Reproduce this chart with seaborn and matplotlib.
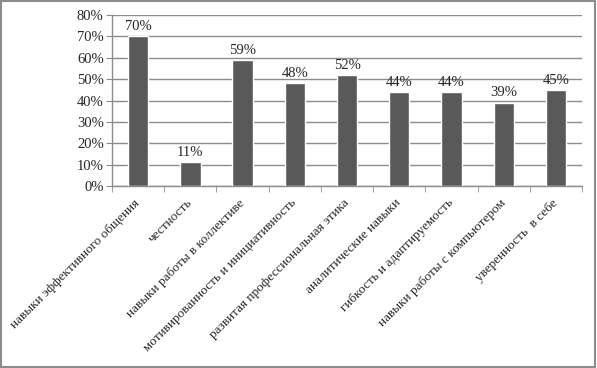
import pandas as pd
import numpy as np
import seaborn as sns
import matplotlib.pyplot as plt

skills = ['навыки эффективного общения', 'честность', 'навыки работы в коллективе',
          'мотивированность и инициативность', 'развитая профессиональная этика',
          'аналитические навыки', 'гибкость и адаптируемость',
          'навыки работы с компьютером', 'уверенность  в себе']
shares = [70, 11, 59, 48, 52, 44, 44, 39, 45]

df = pd.DataFrame({'skill': skills, 'share': shares})

sns.set_style('white')
plt.rcParams['font.family'] = ['Liberation Serif', 'DejaVu Serif']

fig = plt.figure(figsize=(5.97, 3.68), dpi=100)
ax = fig.add_axes([0.1876, 0.4946, 0.7874, 0.4644])

sns.barplot(data=df, x='skill', y='share', color='#595959', width=0.39,
            saturation=1, ax=ax, zorder=3)

for i, v in enumerate(shares):
    ax.text(i, v + 1.5, f'{v}%', ha='center', va='bottom', fontsize=10.5)

ax.set_ylim(0, 80)
ax.set_xlim(-0.5, len(skills) - 0.5)
ax.set_yticks(range(0, 81, 10))
ax.set_yticklabels([f'{t}%' for t in range(0, 81, 10)], fontsize=10.5)
ax.yaxis.grid(True, color='#8c8c8c', linewidth=1)
ax.set_axisbelow(True)

ax.set_xticks(range(len(skills)))
ax.set_xticklabels(skills, rotation=45, ha='right', va='center', rotation_mode='anchor', fontsize=9.5)
ax.set_xticks(np.arange(-0.5, len(skills)), minor=True)
ax.tick_params(axis='x', which='major', length=0, pad=11)
ax.tick_params(axis='x', which='minor', length=4, color='#8c8c8c', direction='out', bottom=True)
ax.tick_params(axis='y', length=4, color='#8c8c8c', direction='out', left=True, pad=2)

ax.set_xlabel('')
ax.set_ylabel('')
for s in ['top', 'right']:
    ax.spines[s].set_visible(False)
for s in ['left', 'bottom']:
    ax.spines[s].set_color('#8c8c8c')
    ax.spines[s].set_linewidth(1)

fig.patches.append(plt.Rectangle((0.002, 0.003), 0.995, 0.994, transform=fig.transFigure,
                                 fill=False, edgecolor='#8c8c8c', linewidth=1.5))

fig.savefig('out.png', dpi=100)
